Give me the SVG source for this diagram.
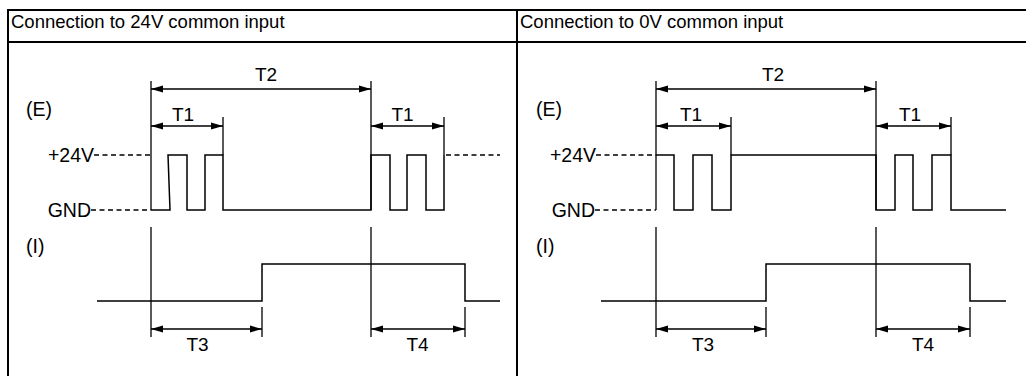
<svg xmlns="http://www.w3.org/2000/svg" width="1026" height="376" viewBox="0 0 1026 376">
  <style>
    .frame { stroke: #000; stroke-width: 2; fill: none; }
    .wave { stroke: #000; stroke-width: 1.5; fill: none; }
    .dash { stroke: #000; stroke-width: 1.3; fill: none; stroke-dasharray: 5 3.5; }
    .dim { stroke: #000; stroke-width: 1.3; fill: none; }
    .arr { stroke: #000; stroke-width: 1.3; fill: none; marker-start: url(#ah); marker-end: url(#ah); }
    text { font-family: "Liberation Sans", Arial, sans-serif; font-size: 19.5px; fill: #000; }
    .hdr { font-size: 18.5px; }
    .t { font-size: 19px; }
    .mid { text-anchor: middle; }
    .end { text-anchor: end; }
  </style>
  <defs>
    <marker id="ah" markerUnits="userSpaceOnUse" markerWidth="12" markerHeight="8" refX="12" refY="3.5" orient="auto-start-reverse" viewBox="0 0 12 7">
      <path d="M0,0 L12,3.5 L0,7 z" fill="#000"/>
    </marker>
  </defs>
  <rect width="1026" height="376" fill="#fff"/>

  <g id="table">
    <line class="frame" x1="8" y1="10" x2="1026" y2="10"/>
    <line class="frame" x1="8" y1="42" x2="1026" y2="42"/>
    <line class="frame" x1="8" y1="9" x2="8" y2="376"/>
    <line class="frame" x1="517" y1="9" x2="517" y2="376"/>
    <text class="hdr" x="11" y="28">Connection to 24V common input</text>
    <text class="hdr" x="520" y="28">Connection to 0V common input</text>
  </g>

  <g id="panel-24v">
    <g id="labels-24v">
      <text x="26" y="116">(E)</text>
      <text class="end" x="94" y="162">+24V</text>
      <text class="end" x="91" y="217">GND</text>
      <text x="26" y="253">(I)</text>
      <text class="t mid" x="266" y="81">T2</text>
      <text class="t mid" x="183" y="121">T1</text>
      <text class="t mid" x="402.5" y="121">T1</text>
      <text class="t mid" x="197.5" y="351">T3</text>
      <text class="t mid" x="417.5" y="351">T4</text>
    </g>
    <g id="signal-e-24v">
      <line class="dash" x1="94" y1="155" x2="151" y2="155"/>
      <line class="dash" x1="91" y1="210" x2="151" y2="210"/>
      <polyline class="wave" points="151,210 170,210 168,155 187,155 187,210 205,210 205,155 223,155 223,210 371,210 371,155 390,155 390,210 407,210 407,155 426,155 426,210 444,210 444,155"/>
      <line class="dash" x1="446" y1="155" x2="500" y2="155"/>
    </g>
    <g id="signal-i-24v">
      <polyline class="wave" points="97,301 262,301 262,264 465,264 465,301 500,301"/>
    </g>
    <g id="dims-24v">
      <line class="dim" x1="151" y1="81" x2="151" y2="210"/>
      <line class="dim" x1="371" y1="81" x2="371" y2="210"/>
      <line class="dim" x1="223" y1="117" x2="223" y2="155"/>
      <line class="dim" x1="444" y1="117" x2="444" y2="155"/>
      <line class="dim" x1="151" y1="227" x2="151" y2="337"/>
      <line class="dim" x1="371" y1="227" x2="371" y2="337"/>
      <line class="dim" x1="262" y1="307" x2="262" y2="337"/>
      <line class="dim" x1="465" y1="307" x2="465" y2="337"/>
    </g>
  </g>

  <g id="panel-0v">
    <g id="labels-0v">
      <text x="536" y="116">(E)</text>
      <text class="end" x="596" y="162">+24V</text>
      <text class="end" x="595" y="217">GND</text>
      <text x="536" y="253">(I)</text>
      <text class="t mid" x="773" y="81">T2</text>
      <text class="t mid" x="691" y="121">T1</text>
      <text class="t mid" x="910" y="121">T1</text>
      <text class="t mid" x="703" y="351">T3</text>
      <text class="t mid" x="923" y="351">T4</text>
    </g>
    <g id="signal-e-0v">
      <line class="dash" x1="596" y1="155" x2="656" y2="155"/>
      <line class="dash" x1="595" y1="210" x2="656" y2="210"/>
      <polyline class="wave" points="656,155 674,155 674,210 693,210 693,155 712,155 712,210 731,210 731,155 876,155 876,210 895,210 895,155 913,155 913,210 932,210 932,155 951,155 951,210 1006,210"/>
    </g>
    <g id="signal-i-0v">
      <polyline class="wave" points="601,301 766,301 766,264 970,264 970,301 1006,301"/>
    </g>
    <g id="dims-0v">
      <line class="dim" x1="656" y1="81" x2="656" y2="210"/>
      <line class="dim" x1="876" y1="81" x2="876" y2="210"/>
      <line class="dim" x1="731" y1="117" x2="731" y2="155"/>
      <line class="dim" x1="951" y1="117" x2="951" y2="155"/>
      <line class="dim" x1="656" y1="227" x2="656" y2="337"/>
      <line class="dim" x1="876" y1="227" x2="876" y2="337"/>
      <line class="dim" x1="766" y1="307" x2="766" y2="337"/>
      <line class="dim" x1="970" y1="307" x2="970" y2="337"/>
    </g>
  </g>

  <g id="connectors">
    <line class="arr" x1="151" y1="89" x2="371" y2="89"/>
    <line class="arr" x1="151" y1="126" x2="223" y2="126"/>
    <line class="arr" x1="371" y1="126" x2="444" y2="126"/>
    <line class="arr" x1="151" y1="329" x2="262" y2="329"/>
    <line class="arr" x1="371" y1="329" x2="465" y2="329"/>
    <line class="arr" x1="656" y1="89" x2="876" y2="89"/>
    <line class="arr" x1="656" y1="126" x2="731" y2="126"/>
    <line class="arr" x1="876" y1="126" x2="951" y2="126"/>
    <line class="arr" x1="656" y1="329" x2="766" y2="329"/>
    <line class="arr" x1="876" y1="329" x2="970" y2="329"/>
  </g>
</svg>
